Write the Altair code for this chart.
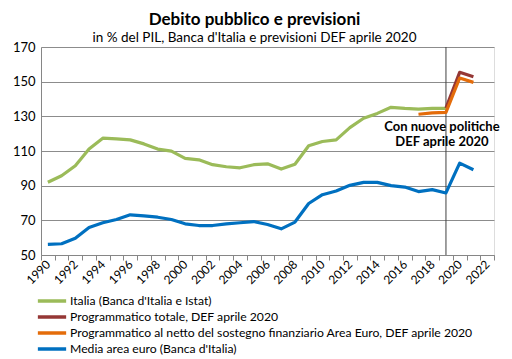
import altair as alt
import pandas as pd

years_all = list(range(1990, 2023))

italia_years = list(range(1990, 2020))
italia_vals = [92.0, 95.7, 101.5, 111.2, 117.4, 117.0, 116.4, 114.1, 111.1, 109.9,
               105.7, 104.9, 102.1, 100.9, 100.3, 102.1, 102.6, 99.6, 102.4, 113.0,
               115.5, 116.4, 123.5, 128.9, 131.7, 135.2, 134.6, 134.2, 134.6, 134.6]

tot_years = [2019, 2020, 2021]
tot_vals = [134.8, 155.4, 152.8]

netto_years = [2017, 2018, 2019, 2020, 2021]
netto_vals = [131.2, 132.0, 132.3, 152.1, 149.6]

euro_years = list(range(1990, 2022))
euro_vals = [56.1, 56.5, 59.6, 65.9, 68.6, 70.5, 73.2, 72.6, 71.8, 70.5,
             68.0, 67.0, 67.0, 68.0, 68.6, 69.3, 67.6, 65.1, 69.0, 79.7,
             84.8, 86.9, 90.2, 91.9, 91.9, 90.0, 89.2, 86.6, 87.7, 85.8,
             103.0, 99.2]

series_names = [
    "Italia (Banca d'Italia e Istat)",
    "Programmatico totale, DEF aprile 2020",
    "Programmatico al netto del sostegno finanziario Area Euro, DEF aprile 2020",
    "Media area euro (Banca d'Italia)",
]
series_colors = ["#9BBB59", "#953735", "#E46C0A", "#0070C0"]

y_ticks = [50, 70, 90, 110, 130, 150, 170]

rows = []
for name, ys, vs in [(series_names[0], italia_years, italia_vals),
                     (series_names[1], tot_years, tot_vals),
                     (series_names[2], netto_years, netto_vals),
                     (series_names[3], euro_years, euro_vals)]:
    for y, v in zip(ys, vs):
        rows.append({"anno": y, "valore": v, "serie": name})
df = pd.DataFrame(rows)

font = "Lato"

xscale = alt.Scale(type="band", domain=years_all, paddingInner=0, paddingOuter=0)
yscale = alt.Scale(domain=[50, 170], nice=False)
xaxis = alt.Axis(
    title=None, labelAngle=-45, labelAlign="right", labelBaseline="middle",
    labelExpr="toNumber(datum.value) % 2 == 0 ? datum.label : ''",
    tickBand="extent", grid=False, labelFontSize=12, labelFont=font,
    labelColor="#000000", domainColor="#868686", tickColor="#868686",
    tickSize=5, labelPadding=2, labelOverlap=False,
)
yaxis = alt.Axis(values=y_ticks, title=None, labelFontSize=13, labelFont=font,
                 labelColor="#000000", gridColor="#8c8c8c", gridWidth=1,
                 domainColor="#868686", ticks=False, labelPadding=6,
                 labelOverlap=False)

lines = alt.Chart(df).mark_line(strokeWidth=3.2, strokeJoin="round").encode(
    x=alt.X("anno:O", scale=xscale, axis=xaxis),
    y=alt.Y("valore:Q", scale=yscale, axis=yaxis),
    color=alt.Color("serie:N",
                    scale=alt.Scale(domain=series_names, range=series_colors),
                    sort=series_names,
                    legend=alt.Legend(title=None, orient="none", legendX=-5, legendY=246,
                                      symbolType="stroke", symbolSize=800,
                                      symbolStrokeWidth=3.5, labelFontSize=12.2,
                                      labelFont=font, labelColor="#000000",
                                      rowPadding=0, clipHeight=16, labelLimit=500,
                                      symbolOffset=0, labelOffset=2)),
    order=alt.Order("anno:Q"),
)

rule_df = pd.DataFrame({"anno": [2019]})
rule = alt.Chart(rule_df).mark_rule(color="#404040", strokeWidth=1).encode(
    x=alt.X("anno:O", scale=xscale, axis=xaxis)
)

ann_df = pd.DataFrame({"anno": [2019, 2019], "valore": [123.8, 115.2],
                       "testo": ["Con nuove politiche", "DEF aprile 2020"]})
ann = alt.Chart(ann_df).mark_text(fontWeight="bold", fontSize=13, font=font,
                                  color="#000000", align="center", dx=-4).encode(
    x=alt.X("anno:O", scale=xscale, axis=xaxis),
    y=alt.Y("valore:Q", scale=yscale, axis=yaxis),
    text="testo:N",
)

chart = alt.layer(rule, lines, ann).properties(
    width=453, height=208,
    title=alt.TitleParams(
        "Debito pubblico e previsioni",
        subtitle="in % del PIL, Banca d'Italia e previsioni DEF aprile 2020",
        font=font, fontSize=17, fontWeight="bold", color="#000000",
        subtitleFont=font, subtitleFontSize=13.5, subtitleColor="#000000",
        anchor="middle", dx=-13, offset=-4, subtitlePadding=2,
    ),
    autosize=alt.AutoSizeParams(type="none"),
    padding={"left": 33, "top": 39, "right": 10, "bottom": 104},
).configure_view(
    fill="#FDE9D9", stroke="#868686", strokeWidth=1
).configure(background="#ffffff")

chart.save("out.html", embed_options={"renderer": "svg", "actions": False})
